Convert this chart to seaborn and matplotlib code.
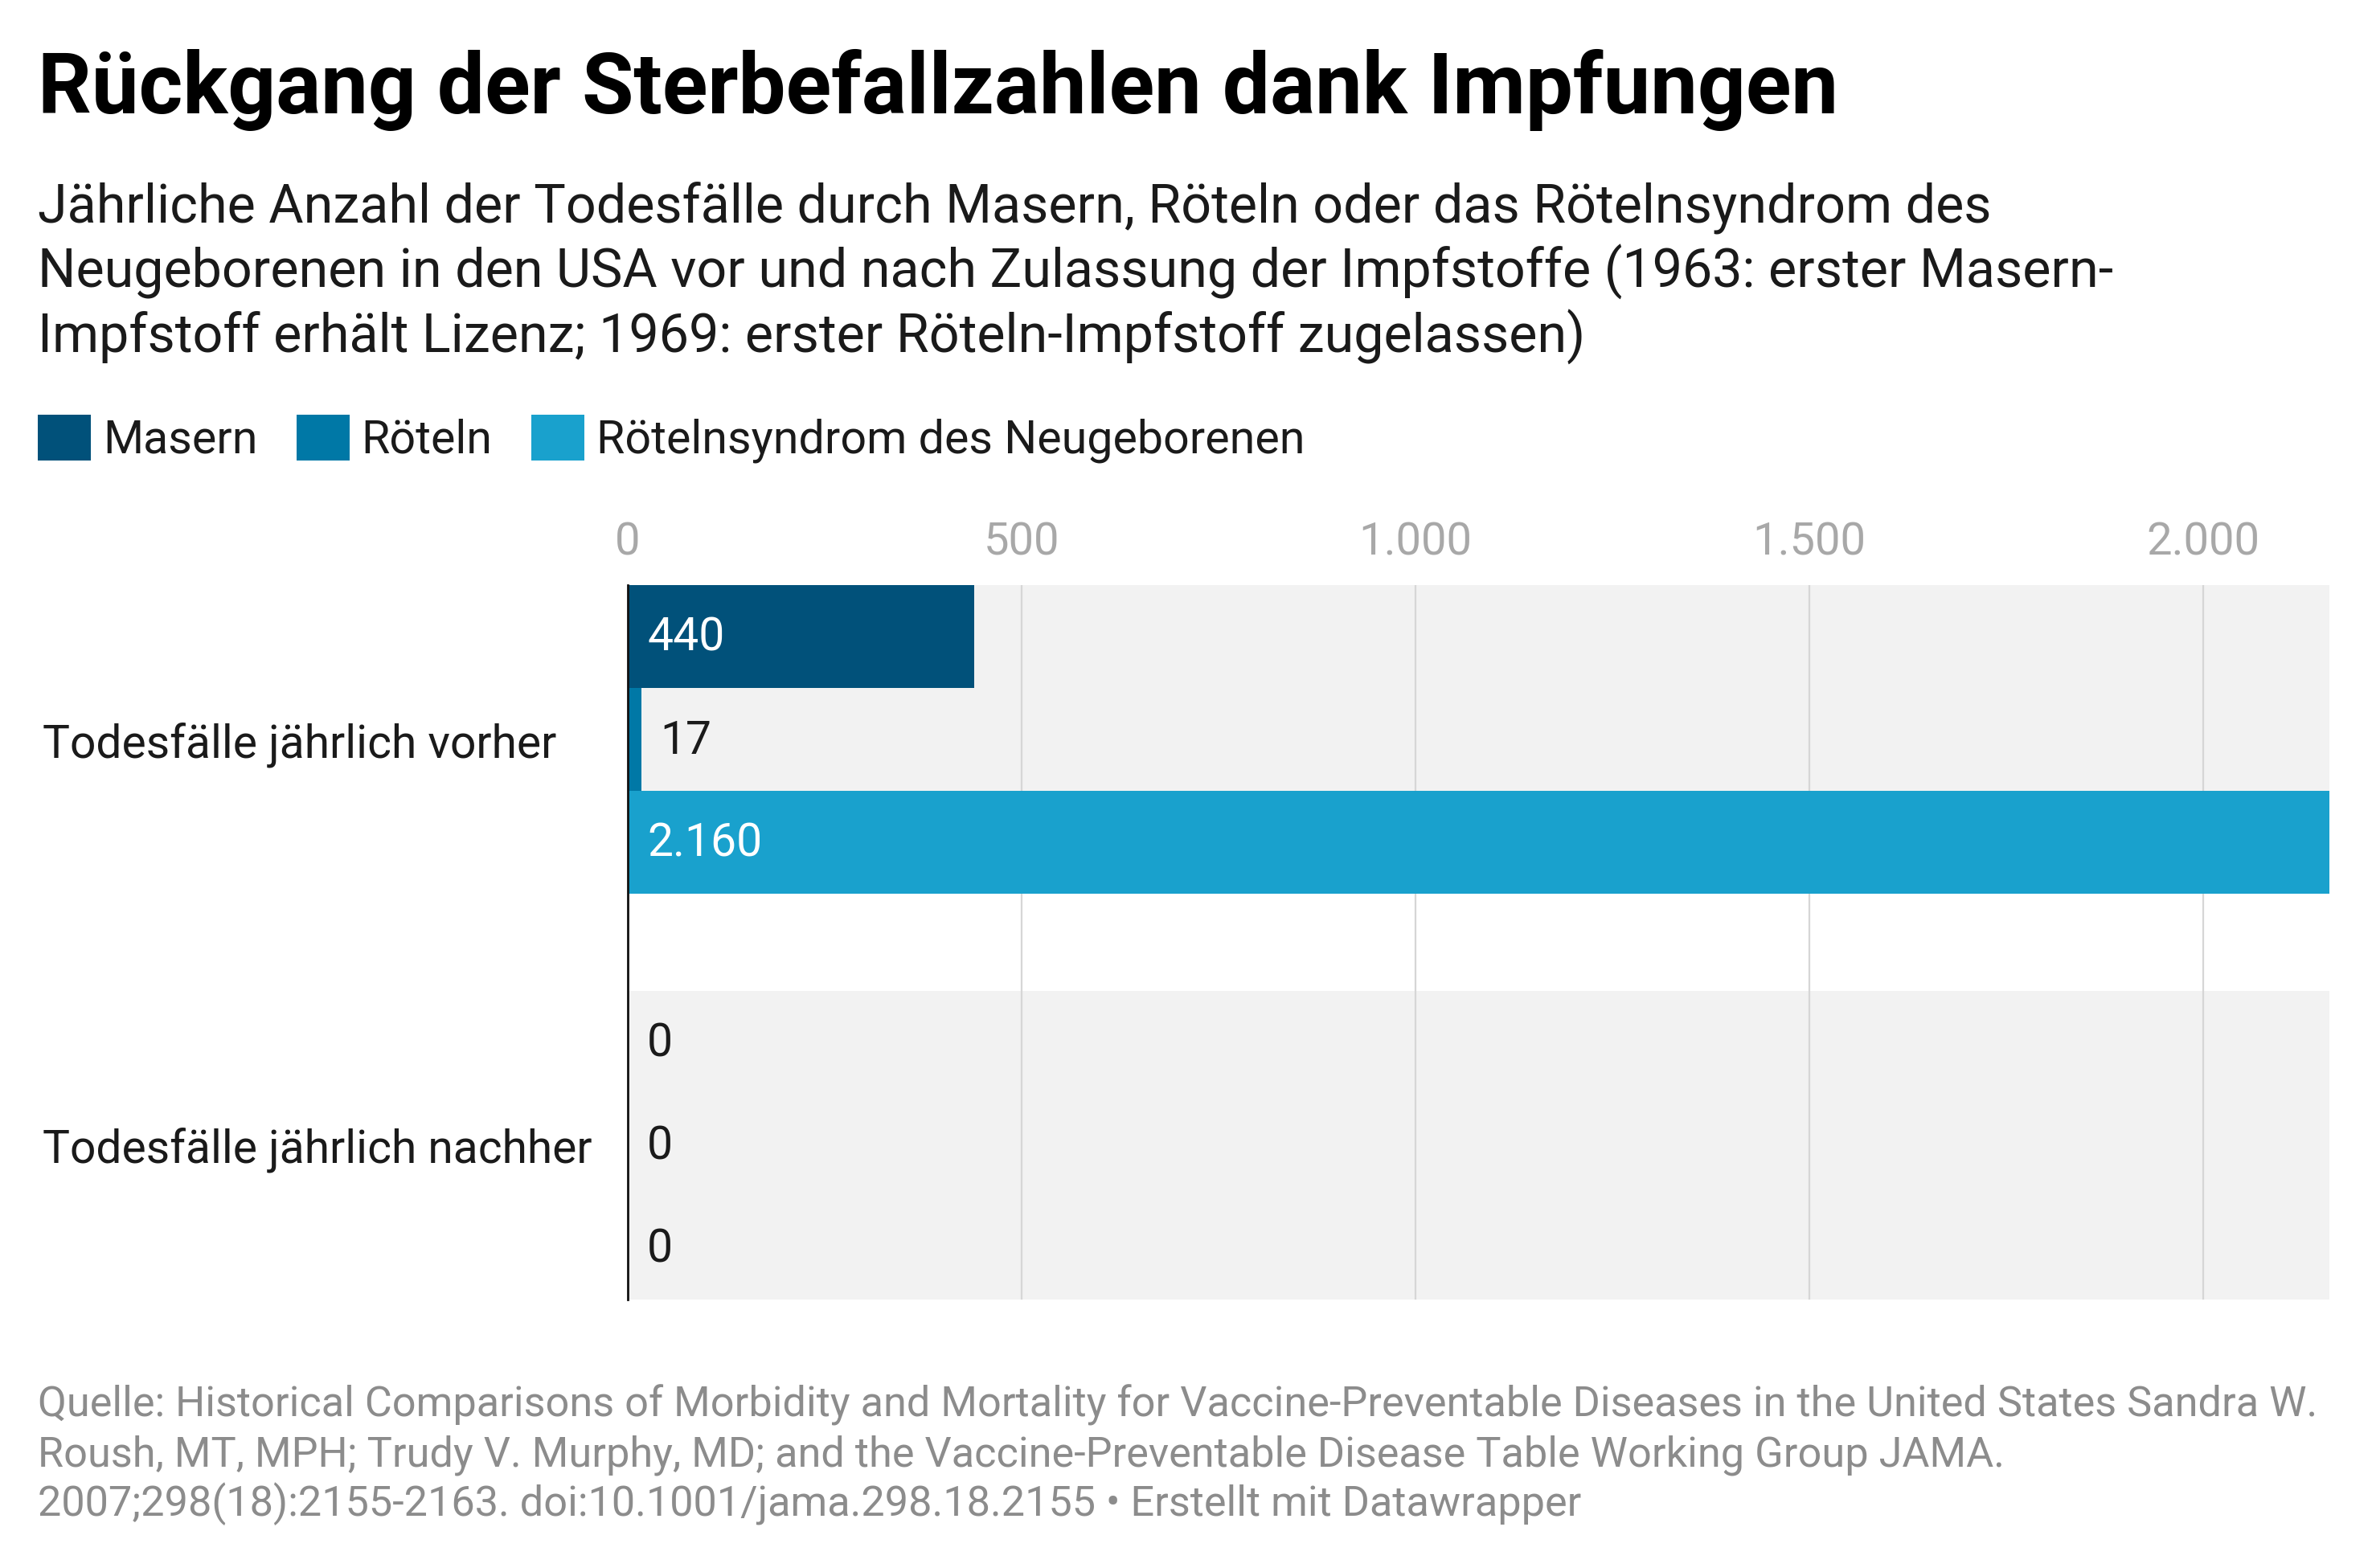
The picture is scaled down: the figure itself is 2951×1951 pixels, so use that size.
import matplotlib
matplotlib.use("Agg")
import matplotlib.pyplot as plt
import matplotlib.transforms as mtransforms
import seaborn as sns
import pandas as pd

# ---- data ----
categories = ["Todesfälle jährlich vorher", "Todesfälle jährlich nachher"]
diseases = ["Masern", "Röteln", "Rötelnsyndrom des Neugeborenen"]
masern = [440, 0]
roeteln = [17, 0]
crs = [2160, 0]
x_ticks = [0, 500, 1000, 1500, 2000]

title = "Rückgang der Sterbefallzahlen dank Impfungen"
subtitle_lines = [
    "Jährliche Anzahl der Todesfälle durch Masern, Röteln oder das Rötelnsyndrom des",
    "Neugeborenen in den USA vor und nach Zulassung der Impfstoffe (1963: erster Masern-",
    "Impfstoff erhält Lizenz; 1969: erster Röteln-Impfstoff zugelassen)",
]
source_lines = [
    "Quelle: Historical Comparisons of Morbidity and Mortality for Vaccine-Preventable Diseases in the United States Sandra W.",
    "Roush, MT, MPH; Trudy V. Murphy, MD; and the Vaccine-Preventable Disease Table Working Group JAMA.",
    "2007;298(18):2155-2163. doi:10.1001/jama.298.18.2155 • Erstellt mit Datawrapper",
]
colors = ["#01517a", "#0078a6", "#19a1cd"]

rows = []
for vals, d in zip([masern, roeteln, crs], diseases):
    for c, v in zip(categories, vals):
        rows.append({"group": c, "disease": d, "value": v})
df = pd.DataFrame(rows)

def de(v):
    return f"{v:,}".replace(",", ".")

sns.set_theme(style="white")
plt.rcParams["font.family"] = ["Roboto", "DejaVu Sans"]

W, H = 2951, 1951
fig = plt.figure(figsize=(W / 100, H / 100), dpi=100)
fig.patch.set_facecolor("white")

ax_left, ax_right = 781 / W, 2898 / W
ax_top, ax_bottom = 1 - 728 / H, 1 - 1617 / H
ax = fig.add_axes([ax_left, ax_bottom, ax_right - ax_left, ax_top - ax_bottom])

band = 0.761
sns.barplot(data=df, x="value", y="group", hue="disease", order=categories,
            hue_order=diseases, palette=colors, orient="h", width=band,
            saturation=1, linewidth=0, ax=ax, zorder=2)

handles, labels = ax.get_legend_handles_labels()
if ax.get_legend() is not None:
    ax.get_legend().remove()

ax.set_xlim(0, 2160)
ax.set_ylim(len(categories) - 1 + band / 2, -band / 2)

# background bands
for i in range(len(categories)):
    ax.axhspan(i - band / 2, i + band / 2, color="#f2f2f2", zorder=0.2, lw=0)

ax.set_axisbelow(True)
ax.xaxis.grid(True, color="#d6d6d6", lw=1.6, zorder=0.5)
ax.yaxis.grid(False)
ax.set_xticks(x_ticks)
ax.set_xticklabels([de(t) for t in x_ticks])
ax.xaxis.set_ticks_position("top")
ax.tick_params(axis="x", top=False, bottom=False, labeltop=True, labelbottom=False,
               length=0, pad=19, labelsize=40.5, labelcolor="#a8a8a8")
ax.set_yticks([])
ax.set_xlabel("")
ax.set_ylabel("")
for s in ["top", "right", "bottom"]:
    ax.spines[s].set_visible(False)
ax.spines["left"].set_color("#111111")
ax.spines["left"].set_linewidth(2)
ax.spines["left"].set_zorder(3)

# category labels
trans = mtransforms.blended_transform_factory(fig.transFigure, ax.transData)
for i, c in enumerate(categories):
    ax.text(53 / W, i, c, transform=trans, ha="left", va="center_baseline",
            fontsize=41, color="#1a1a1a")

# value labels
off = 24 / (ax_right - ax_left) / W * 2160
for cont in ax.containers:
    for p in cont.patches:
        w = p.get_width()
        y = p.get_y() + p.get_height() / 2 - 0.008
        if w > 150:
            ax.text(p.get_x() + off, y, de(int(round(w))), ha="left",
                    va="center_baseline", fontsize=41, color="white", zorder=4)
        else:
            ax.text(w + off, y, de(int(round(w))), ha="left",
                    va="center_baseline", fontsize=41, color="#1a1a1a", zorder=4)

# legend
fig.legend(handles, labels, loc="center left", bbox_to_anchor=(47 / W, 1 - 546 / H),
           ncol=3, frameon=False, fontsize=41.3, handlelength=1.15, handleheight=1.15,
           handletextpad=0.26, columnspacing=0.84, borderpad=0, borderaxespad=0,
           labelcolor="#1a1a1a")

# title / subtitle / source
fig.text(47 / W, 1 - 141 / H, title, ha="left", va="baseline", fontsize=75.4,
         fontweight="bold", color="#000000")
for k, line in enumerate(subtitle_lines):
    fig.text(47 / W, 1 - (277 + 81 * k) / H, line, ha="left", va="baseline",
             fontsize=47.8, color="#1a1a1a")
for k, line in enumerate(source_lines):
    fig.text(47 / W, 1 - (1762 + 62 * k) / H, line, ha="left", va="baseline",
             fontsize=37.6, color="#8c8c8c")

fig.savefig("out.png", dpi=100, facecolor="white")
